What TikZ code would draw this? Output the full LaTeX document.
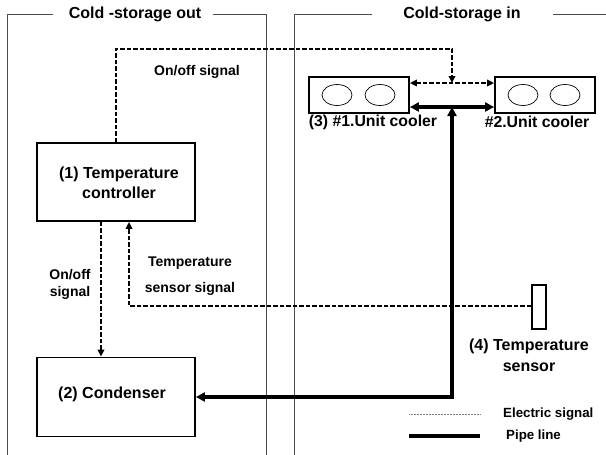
\documentclass[tikz,border=0pt]{standalone}
\usepackage{fontspec}
\setmainfont{Liberation Sans}
\usetikzlibrary{arrows.meta,shapes.geometric}
\tikzset{
  frameline/.style={draw=black!70,line width=1pt},
  boxnode/.style={draw,line width=1.8pt,rectangle,inner sep=0pt},
  coolerbox/.style={draw,line width=1.8pt,rectangle,minimum width=100pt,minimum height=36pt,inner sep=0pt},
  fan/.style={draw,line width=0.7pt,ellipse,minimum width=30pt,minimum height=21pt,inner sep=0pt},
  sig/.style={line width=1.8pt,dash pattern=on 4.5pt off 2pt},
  sigtip/.style={-{Triangle[length=7pt,width=6.5pt]}},
  sigtips/.style={{Triangle[length=7pt,width=6.5pt]}-{Triangle[length=7pt,width=6.5pt]}},
  pipe/.style={line width=3.3pt},
  pipetip/.style={-{Triangle[length=9pt,width=9pt]}},
  pipetips/.style={{Triangle[length=9pt,width=9pt]}-{Triangle[length=9pt,width=9pt]}},
  big/.style={font=\fontsize{16}{20}\selectfont\bfseries,inner sep=0pt},
  mid/.style={font=\fontsize{14}{17}\selectfont\bfseries,inner sep=0pt},
  small/.style={font=\fontsize{13.3}{16}\selectfont\bfseries,inner sep=0pt},
}
\begin{document}
\begin{tikzpicture}[x=1pt,y=-1pt]
\useasboundingbox (0,0) rectangle (606,455);
% frames
\draw[frameline] (53,14) -- (7,14) -- (7,455);
\draw[frameline] (213,14) -- (266,14) -- (266,455);
\draw[frameline] (372,14) -- (294,14) -- (294,455);
\draw[frameline] (553,14) -- (606,14);
\node[big] (hout) at (135,14) {Cold -storage out};
\node[big] (hin) at (462,14) {Cold-storage in};
% boxes
\node[boxnode,minimum width=158pt,minimum height=78pt] (ctrl) at (116,182) {};
\node[big,align=center,font=\fontsize{16}{20}\selectfont\bfseries] (ctrltxt) at (119,183) {(1) Temperature\\controller};
\node[boxnode,minimum width=158pt,minimum height=79pt] (cond) at (116,397) {};
\node[big] (condtxt) at (112,394) {(2) Condenser};
\node[coolerbox] (c1) at (359,95) {};
\node[coolerbox] (c2) at (545,95) {};
\node[fan] (f11) at (337,95) {};
\node[fan] (f12) at (380,95) {};
\node[fan] (f21) at (523,95) {};
\node[fan] (f22) at (565,95) {};
\node[big,font=\fontsize{15.8}{19}\selectfont\bfseries] (c1txt) at (373,122) {(3) \#1.Unit cooler};
\node[big,font=\fontsize{15.8}{19}\selectfont\bfseries] (c2txt) at (537,122) {\#2.Unit cooler};
\node[draw,line width=1.2pt,fill=white,minimum width=14pt,minimum height=44pt,inner sep=0pt] (sens) at (539,307) {};
\node[big,align=center,font=\fontsize{16}{21}\selectfont\bfseries] (senstxt) at (529,355) {(4) Temperature\\sensor};
% coordinates
\coordinate (topL) at (116,49);
\coordinate (topR) at (452,49);
\coordinate (sigJ) at (452,83);
\coordinate (pipeJ) at (452,397);
\coordinate (pipeT) at (452,107);
\coordinate (sensCorner) at (129,306);
% signals
\draw[sig,sigtip] (ctrl.north) -- (topL) -- (topR) -- (sigJ);
\draw[sig,sigtips] ([yshift=12pt]c1.east) -- ([yshift=12pt]c2.west);
\draw[sig,sigtip] ([xshift=-15pt]ctrl.south) -- ([xshift=-15pt]cond.north);
\draw[sig,sigtip] (sens.west |- sensCorner) -- (sensCorner) -- ([xshift=13pt]ctrl.south);
% pipes
\draw[pipe,pipetips] ([yshift=-12pt]c1.east) -- ([yshift=-12pt]c2.west);
\draw[pipe,pipetip] (pipeJ) -- (pipeT);
\draw[pipe,pipetip] ([xshift=1.6pt]pipeJ) -- (cond.east);
% labels
\node[mid] (lon1) at (197,72) {On/off signal};
\node[mid,align=center,font=\fontsize{14}{17}\selectfont\bfseries] (lon2) at (70,284.5) {On/off\\signal};
\node[mid] (lts1) at (190,263) {Temperature};
\node[mid] (lts2) at (190,289) {sensor signal};
% legend
\coordinate (le1) at (409,414);
\coordinate (le2) at (480,414);
\coordinate (lp1) at (409,436);
\coordinate (lp2) at (480,436);
\draw[black!50,line width=0.6pt,dash pattern=on 1pt off 0.5pt] (le1) -- (le2);
\draw[pipe] (lp1) -- (lp2);
\node[small,anchor=west] (ltxt1) at (503,414) {Electric signal};
\node[small,anchor=west] (ltxt2) at (506,436) {Pipe line};
\end{tikzpicture}
\end{document}
